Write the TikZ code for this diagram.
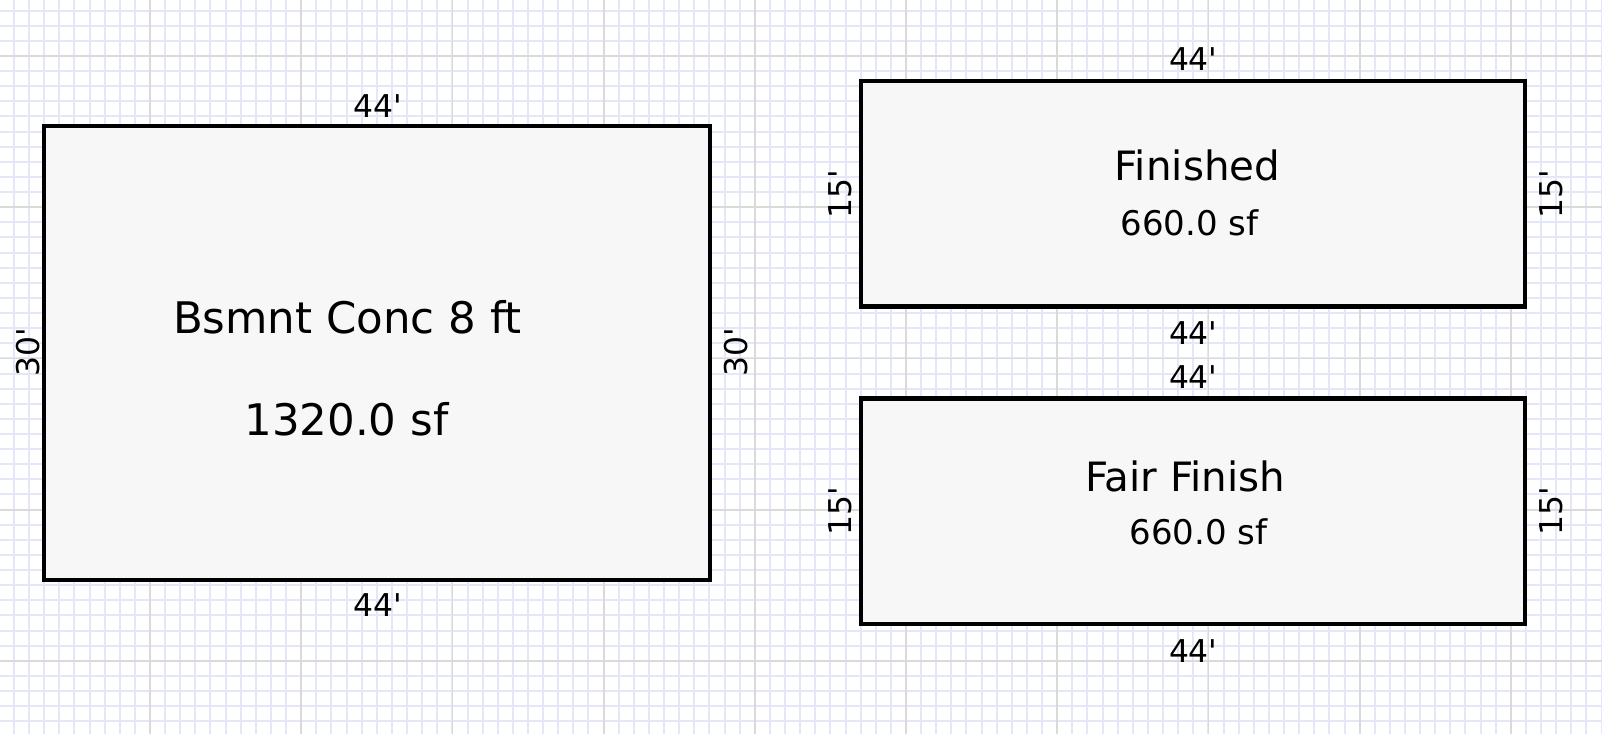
\documentclass[tikz,border=0pt]{standalone}
\usepackage{fontspec}
\setmainfont{DejaVu Sans}[Ligatures={TeXOff,NoCommon}]
\definecolor{minorgrid}{HTML}{E3E7F8}
\definecolor{majorgrid}{HTML}{D8DBD8}
\definecolor{roomfill}{HTML}{F7F7F7}
\begin{document}
\begin{tikzpicture}[x=1pt,y=-1pt,
  minor/.style={draw=minorgrid,line width=2pt},
  major/.style={draw=majorgrid,line width=1.8pt},
  room/.style={draw=black,fill=roomfill,line width=4.2pt,inner sep=0pt,outer sep=0pt},
  dimlab/.style={inner sep=0pt,font=\fontsize{31.4}{38}\selectfont},
  bigtxt/.style={inner sep=0pt,font=\fontsize{43.5}{52}\selectfont},
  midtxt/.style={inner sep=0pt,font=\fontsize{40.4}{48}\selectfont},
  smalltxt/.style={inner sep=0pt,font=\fontsize{34}{41}\selectfont}]
\fill[white] (0,0) rectangle (1602,734);
\useasboundingbox (0,0) rectangle (1602,734);
% grid
\foreach \i in {0,...,106} { \draw[minor] ({-1.2+\i*15.12},0) -- ({-1.2+\i*15.12},734); }
\foreach \j in {0,...,49} { \draw[minor] (0,{-4.48+\j*15.12}) -- (1602,{-4.48+\j*15.12}); }
\foreach \i in {0,...,10} { \draw[major] ({-1.2+\i*151.2},0) -- ({-1.2+\i*151.2},734); }
\foreach \j in {0,...,4} { \draw[major] (0,{56+\j*151.2}) -- (1602,{56+\j*151.2}); }
% rooms
\node[room,minimum width=666pt,minimum height=454.5pt] (bsmt) at (377.2,353) {};
\node[room,minimum width=664pt,minimum height=225.8pt] (fin) at (1193,193.6) {};
\node[room,minimum width=664pt,minimum height=225.8pt] (fair) at (1193,511.4) {};
% room texts
\node[bigtxt] (bsmtname) at (347.4,317.7) {Bsmnt Conc 8 ft};
\node[bigtxt] (bsmtarea) at (346.4,418.9) {1320.0 sf};
\node[midtxt] (finname) at (1197.4,165.5) {Finished};
\node[smalltxt] (finarea) at (1189.3,222.7) {660.0 sf};
\node[midtxt] (fairname) at (1185.2,476.1) {Fair Finish};
\node[smalltxt] (fairarea) at (1198.5,532.3) {660.0 sf};
% dimensions
\node[dimlab] (bt) at (378,106.3) {44'};
\node[dimlab] (bb) at (378,604.8) {44'};
\node[dimlab,rotate=90] (bl) at (27.6,352.5) {30'};
\node[dimlab,rotate=90] (br) at (735.6,352.5) {30'};
\node[dimlab] (ft) at (1193.3,59.3) {44'};
\node[dimlab] (fb) at (1193.3,333) {44'};
\node[dimlab,rotate=90] (fl) at (839.8,194.1) {15'};
\node[dimlab,rotate=90] (fr) at (1551,194.1) {15'};
\node[dimlab] (at) at (1193.3,377) {44'};
\node[dimlab] (ab) at (1193.3,650.8) {44'};
\node[dimlab,rotate=90] (al) at (839.8,510.9) {15'};
\node[dimlab,rotate=90] (ar) at (1551,510.9) {15'};
\end{tikzpicture}
\end{document}
